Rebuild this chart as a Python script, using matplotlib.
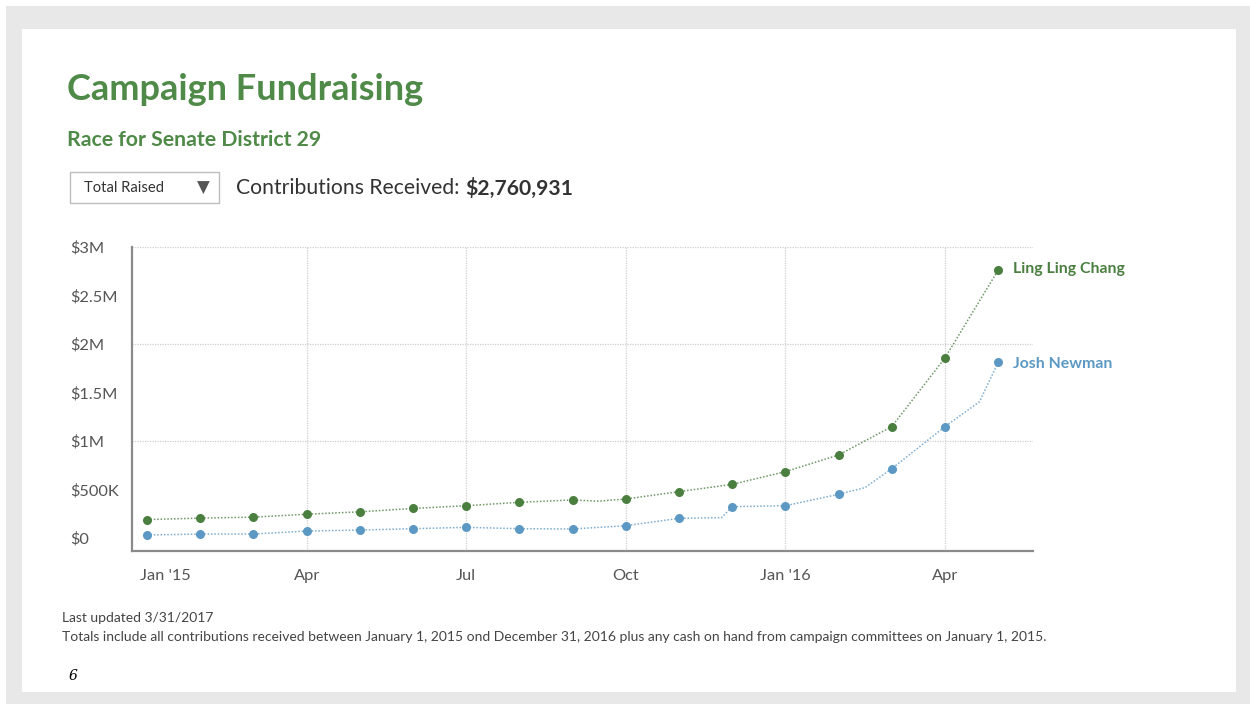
import matplotlib.pyplot as plt
from matplotlib.patches import Rectangle
import matplotlib.transforms as mtransforms

plt.rcParams['font.family'] = ['Lato', 'DejaVu Sans']

# months since Jan 2015 (one marker per month)
months = list(range(17))
tick_pos = [0, 3, 6, 9, 12, 15]
tick_labels = ["Jan '15", "Apr", "Jul", "Oct", "Jan '16", "Apr"]

# cumulative totals, $M
chang = [0.19, 0.205, 0.215, 0.245, 0.27, 0.305, 0.333, 0.368, 0.392,
         0.402, 0.478, 0.553, 0.684, 0.856, 1.148, 1.856, 2.761]
newman = [0.031, 0.041, 0.041, 0.072, 0.082, 0.096, 0.110, 0.096, 0.093,
          0.127, 0.203, 0.323, 0.333, 0.450, 0.715, 1.148, 1.811]

# extra points on the connecting lines (between markers)
chang_mid_x = [8.5]
chang_mid = [0.38]
newman_mid_x = [10.8, 13.5, 15.65]
newman_mid = [0.21, 0.52, 1.405]

green = '#4a7f40'
blue = '#5b98c4'
title_green = '#4f8a48'

W, H = 1250, 704
fig = plt.figure(figsize=(W / 100, H / 100), dpi=100)
fig.patch.set_facecolor('white')

# grey frame + white card
fig.patches.append(Rectangle((6 / W, 0), 1, 1 - 6 / H, transform=fig.transFigure,
                             facecolor='#e8e8e8', edgecolor='none', zorder=-3))
fig.patches.append(Rectangle((22 / W, 12 / H), 1214 / W, 663 / H, transform=fig.transFigure,
                             facecolor='white', edgecolor='none', zorder=-2))

ax = fig.add_axes([131.7 / W, 153 / H, 901 / W, 304 / H])
ax.set_facecolor('none')


def line_pts(x, y, mx, my):
    pts = sorted(zip(list(x) + list(mx), list(y) + list(my)))
    return [p[0] for p in pts], [p[1] for p in pts]


for vals, mx, my, col, name, dy in [(chang, chang_mid_x, chang_mid, green, 'Ling Ling Chang', 1),
                                    (newman, newman_mid_x, newman_mid, blue, 'Josh Newman', -1)]:
    lx, ly = line_pts(months, vals, mx, my)
    ax.plot(lx, ly, color=col, lw=1.1, ls=(0, (1, 1.2)), alpha=0.8, zorder=2)
    ax.plot(months, vals, 'o', color=col, ms=6.5, mec='none', zorder=3)
    ax.annotate(name, xy=(months[-1], vals[-1]), xytext=(11, dy),
                textcoords='offset points', va='center', ha='left',
                color=col, fontsize=11.4, fontweight='bold')

for g in [1, 2, 3]:
    ax.axhline(g, color='#cfcfcf', lw=0.9, ls=(0, (1, 1)), zorder=0)
for t in tick_pos[1:]:
    ax.axvline(t, color='#cfcfcf', lw=0.9, ls=(0, (1, 1)), zorder=0)

ax.set_xlim(-0.29, 16.65)
ax.set_ylim(-0.134, 3.0)

yt = [0, 0.5, 1, 1.5, 2, 2.5, 3]
ytl = ['$0', '$500K', '$1M', '$1.5M', '$2M', '$2.5M', '$3M']
ax.set_yticks(yt)
ax.set_yticklabels(ytl)
ax.set_xticks(tick_pos)
ax.set_xticklabels(tick_labels)
ax.tick_params(axis='y', length=0, pad=44, labelsize=11.8, labelcolor='#555555')
ax.tick_params(axis='x', length=0, pad=13, labelsize=11.8, labelcolor='#555555')
for lab in ax.get_yticklabels():
    lab.set_horizontalalignment('left')
# first x label is pushed right so it stays clear of the axis
off = mtransforms.ScaledTranslation(18 / 100, 0, fig.dpi_scale_trans)
xl0 = ax.get_xticklabels()[0]
xl0.set_transform(xl0.get_transform() + off)

for s in ['top', 'right']:
    ax.spines[s].set_visible(False)
for s in ['left', 'bottom']:
    ax.spines[s].set_color('#8a8a8a')
    ax.spines[s].set_linewidth(1.6)

# header
fig.text(67 / W, 1 - 100 / H, 'Campaign Fundraising', fontsize=26, fontweight='bold',
         color=title_green, va='baseline')
fig.text(67 / W, 1 - 146 / H, 'Race for Senate District 29', fontsize=15.3, fontweight='bold',
         color=title_green, va='baseline')

fig.patches.append(Rectangle((70 / W, 1 - 203 / H), 149 / W, 31 / H, transform=fig.transFigure,
                             facecolor='white', edgecolor='#bdbdbd', lw=1))
fig.text(84 / W, 1 - 188 / H, 'Total Raised', fontsize=10.6, color='#333333', va='center')
fig.text(203 / W, 1 - 188 / H, '▼', fontsize=12, color='#555555', va='center', ha='center',
         family=['DejaVu Sans'])
t1 = fig.text(236 / W, 1 - 188 / H, 'Contributions Received: ', fontsize=15.2,
              color='#333333', va='center')
ax.annotate('$2,760,931', xy=(1, 0.5), xycoords=t1, va='center', ha='left',
            fontsize=15.2, fontweight='bold', color='#333333')

# footer
fig.text(62 / W, 1 - 618 / H, 'Last updated 3/31/2017', fontsize=10, color='#444444', va='center')
fig.text(62 / W, 1 - 637 / H,
         'Totals include all contributions received between January 1, 2015 ond December 31, 2016 '
         'plus any cash on hand from campaign committees on January 1, 2015.',
         fontsize=10, color='#444444', va='center')
fig.text(73 / W, 1 - 676 / H, '6', fontsize=10, style='italic', color='black',
         va='center', ha='center', family=['DejaVu Serif'])

fig.savefig('out.png', dpi=100)
